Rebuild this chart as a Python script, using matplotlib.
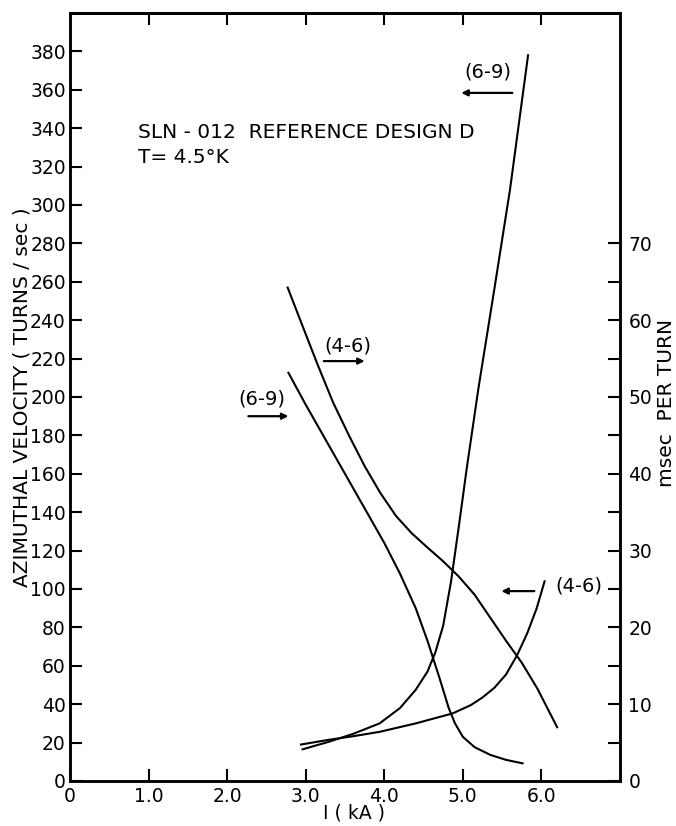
import matplotlib
matplotlib.use("Agg")
import matplotlib.pyplot as plt

# ---- data ----
# velocity curves (left axis, turns/sec) vs I (kA)
vel_69_x = [2.96, 3.3, 3.6, 3.94, 4.2, 4.4, 4.55, 4.65, 4.75, 4.85, 4.95, 5.05, 5.2, 5.4, 5.6, 5.83]
vel_69_y = [16.5, 20.5, 24.5, 30.0, 38.0, 47.5, 57.0, 67.0, 81.0, 104.0, 133.0, 163.0, 205.0, 256.0, 308.0, 378.0]

vel_46_x = [2.94, 3.3, 3.6, 3.94, 4.4, 4.87, 5.1, 5.25, 5.4, 5.55, 5.69, 5.82, 5.94, 6.04]
vel_46_y = [19.0, 21.5, 23.3, 25.6, 30.0, 35.2, 39.5, 43.5, 48.5, 55.5, 65.5, 77.0, 90.0, 104.0]

# msec per turn curves (right axis)
ms_46_x = [2.77, 2.95, 3.15, 3.35, 3.55, 3.75, 3.95, 4.15, 4.35, 4.55, 4.75, 4.95, 5.15, 5.35, 5.55, 5.75, 5.95, 6.2]
ms_46_y = [64.25, 59.5, 54.25, 49.25, 45.0, 41.0, 37.5, 34.5, 32.25, 30.4, 28.6, 26.6, 24.25, 21.25, 18.25, 15.4, 12.0, 7.0]

ms_69_x = [2.78, 3.0, 3.25, 3.5, 3.75, 4.0, 4.2, 4.4, 4.55, 4.7, 4.82, 4.9, 5.0, 5.15, 5.35, 5.55, 5.76]
ms_69_y = [53.15, 49.0, 44.5, 40.0, 35.5, 31.0, 27.0, 22.5, 18.25, 13.5, 9.5, 7.5, 5.75, 4.4, 3.4, 2.75, 2.3]

x_ticks = [0, 1, 2, 3, 4, 5, 6]
x_tick_labels = ["0", "1.0", "2.0", "3.0", "4.0", "5.0", "6.0"]
y_ticks = list(range(0, 381, 20))
r_major = [0, 10, 20, 30, 40, 50, 60, 70]
r_minor = [5, 15, 25, 35, 45, 55, 65]

plt.rcParams['font.family'] = ['DejaVu Sans']

fig = plt.figure(figsize=(6.76, 8.26), dpi=100)
ax = fig.add_axes([70/676, 45/826, 550/676, 768/826])
ax.set_xlim(0, 7)
ax.set_ylim(0, 400)
ax2 = ax.twinx()
ax2.set_ylim(0, 100)

lw = 1.5
ax.plot(vel_69_x, vel_69_y, color='black', lw=lw)
ax.plot(vel_46_x, vel_46_y, color='black', lw=lw)
ax2.plot(ms_46_x, ms_46_y, color='black', lw=lw)
ax2.plot(ms_69_x, ms_69_y, color='black', lw=lw)

for a in (ax, ax2):
    for s in a.spines.values():
        s.set_linewidth(1.8)

fs = 13.5
ax.set_xticks(x_ticks)
ax.set_xticklabels(x_tick_labels, fontsize=fs)
ax.set_yticks(y_ticks)
ax.set_yticklabels([str(v) for v in y_ticks], fontsize=fs)
ax.tick_params(axis='both', direction='in', length=8.5, width=1.5, pad=3)
ax.tick_params(axis='x', pad=4)

# top ticks
axt = ax.secondary_xaxis('top')
axt.set_xticks(x_ticks[1:])
axt.tick_params(direction='in', length=8.5, width=1.5, labeltop=False)
axt.set_xticklabels([])
axt.spines['top'].set_linewidth(1.8)

ax2.set_yticks(r_major)
ax2.set_yticklabels([str(v) for v in r_major], fontsize=fs)
ax2.set_yticks(r_minor, minor=True)
ax2.tick_params(axis='y', which='both', direction='in', length=9, width=1.5, pad=6)

fig.text(22/676, 1 - 397/826, "AZIMUTHAL VELOCITY ( TURNS / sec )", rotation=90,
         ha='center', va='center', fontsize=14.5)
fig.text(667/676, 1 - 403/826, "msec  PER TURN", rotation=90,
         ha='center', va='center', fontsize=14.5)
fig.text(354/676, 1 - 813/826, "I ( kA )", ha='center', va='center', fontsize=13.5)

tfs = 14.5
ax.text(0.87, 337.5, "SLN - 012  REFERENCE DESIGN D", fontsize=tfs, ha='left', va='center')
ax.text(0.87, 324.5, "T= 4.5\u00b0K", fontsize=tfs, ha='left', va='center')

arrow = dict(arrowstyle='-|>', lw=1.6, color='black', mutation_scale=9, shrinkA=0, shrinkB=0)
afs = 14
# labels with arrows
ax.text(5.32, 369.4, "(6-9)", fontsize=afs, ha='center', va='center')
ax.annotate("", xy=(4.98, 358.4), xytext=(5.63, 358.4), arrowprops=arrow)

ax.text(3.54, 226.5, "(4-6)", fontsize=afs, ha='center', va='center')
ax.annotate("", xy=(3.75, 218.7), xytext=(3.23, 218.7), arrowprops=arrow)

ax.text(2.44, 199, "(6-9)", fontsize=afs, ha='center', va='center')
ax.annotate("", xy=(2.78, 190), xytext=(2.27, 190), arrowprops=arrow)

ax.text(6.48, 101.8, "(4-6)", fontsize=afs, ha='center', va='center')
ax.annotate("", xy=(5.49, 98.9), xytext=(5.91, 98.9), arrowprops=arrow)

fig.savefig("out.png", dpi=100)
